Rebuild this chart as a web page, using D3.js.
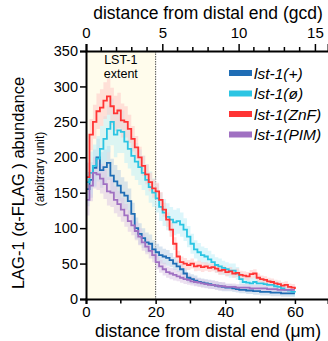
<!DOCTYPE html>
<html>
<head>
<meta charset="utf-8">
<script src="https://d3js.org/d3.v7.min.js"></script>
<style>
  body { margin: 0; background: #fff; }
  text { font-family: "Liberation Sans", Arial, sans-serif; fill: #000; }
</style>
</head>
<body>
<div id="chart"></div>
<script>
(function() {

  var width = 328, height = 341;

  // distance from distal end, um
  var dist = d3.range(0, 61);

  var meanWT  = [155,168,185,200,182,186,192,174,166,160,150,146,138,120,100,92,86,80,78,70,66,62,60,58,55,50,46,42,36,30,28,26,24,23,22,21,20,19,18,17,16,16,15,14,13,13,12,12,11,11,10,10,10,9,9,9,8,8,8,8,8];
  var meanNul = [165,178,188,198,212,226,240,250,232,238,236,222,212,202,194,186,178,168,158,150,142,130,122,116,112,108,110,105,98,88,78,70,66,62,60,56,52,48,46,44,42,40,40,36,28,24,23,22,24,22,22,21,20,20,18,17,15,13,12,10,9];
  var meanZnF = [172,232,250,265,270,280,286,272,262,266,252,250,240,226,214,200,188,176,165,156,152,140,126,112,98,78,60,52,50,48,50,46,47,45,46,44,45,43,40,41,38,39,36,37,34,33,32,35,36,30,28,27,25,24,22,21,19,20,17,16,14];
  var meanPIM = [140,160,178,176,170,162,152,150,140,134,126,118,110,104,96,88,80,74,68,62,52,46,42,38,36,34,32,30,28,27,25,24,23,22,21,20,20,19,18,18,17,17,17,16,16,16,16,15,15,15,15,15,14,14,14,13,13,13,13,13,13];

  var semWT  = [24,25,26,26,25,25,24,24,23,22,22,20,18,16,15,15,14,14,13,13,12,12,11,11,10,9,8,8,7,7,7,7,6,6,6,6,6,6,6,6,5,5,5,5,5,5,5,5,5,5,5,5,5,5,5,5,5,5,5,5,5];
  var semNul = [28,30,30,32,32,32,33,33,32,32,30,30,28,28,26,25,24,22,22,20,20,20,19,19,18,18,18,17,16,15,14,13,13,12,12,12,11,11,11,10,10,10,10,9,9,8,8,8,8,7,7,7,7,7,7,7,6,6,6,6,6];
  var semZnF = [20,22,24,25,26,26,26,26,25,25,24,22,20,18,16,15,14,14,13,13,12,11,10,10,10,9,8,8,8,7,7,7,7,7,6,6,6,6,6,6,6,6,6,6,6,6,6,6,6,6,5,5,5,5,5,5,5,5,5,5,5];
  var semPIM = [22,22,22,22,21,21,20,20,19,18,17,16,15,14,13,12,12,11,11,10,10,9,9,8,8,8,7,7,7,7,6,6,6,6,6,6,6,6,6,6,5,5,5,5,5,5,5,5,5,5,5,5,5,5,5,5,5,5,5,5,5];

  var labels = ["lst-1(+)", "lst-1(\u00f8)", "lst-1(ZnF)", "lst-1(PIM)"];
  var colors = ["#1f6db5", "#2cc5e3", "#ff3434", "#a070c2"];
  var bandColors = ["#b9cfe6", "#bfeef8", "#ffc9c6", "#dcc9e6"];

  var lstExtent = 20;       // um
  var umPerGcd = 4.383;

  var xTicks = [0, 20, 40, 60], xMinor = [10, 30, 50];
  var yTicks = [0, 50, 100, 150, 200, 250, 300, 350];
  var gcdTicks = [0, 5, 10, 15];

  var series = [
    {label: labels[0], mean: meanWT,  sem: semWT},
    {label: labels[1], mean: meanNul, sem: semNul},
    {label: labels[2], mean: meanZnF, sem: semZnF},
    {label: labels[3], mean: meanPIM, sem: semPIM}
  ];
  series.forEach(function(s, i) {
    s.color = colors[i];
    s.band = bandColors[i];
    s.points = dist.map(function(d, j) { return {d: d, m: s.mean[j], e: s.sem[j]}; });
  });

  var left = 86, right = 328, top = 51, bottom = 299;

  var x = d3.scaleLinear().domain([0, 69.5]).range([left, right]);
  var xg = d3.scaleLinear().domain([0, 69.5 / umPerGcd]).range([left, right]);
  var y = d3.scaleLinear().domain([0, 350]).range([bottom, top]);

  var svg = d3.select("#chart").append("svg")
      .attr("width", width)
      .attr("height", height);

  // LST-1 extent region
  svg.append("rect")
      .attr("x", x(0))
      .attr("y", y(350))
      .attr("width", x(lstExtent) - x(0))
      .attr("height", y(0) - y(350))
      .attr("fill", "#fffcec");

  svg.append("line")
      .attr("x1", x(lstExtent)).attr("x2", x(lstExtent))
      .attr("y1", y(350)).attr("y2", y(0))
      .attr("stroke", "#555")
      .attr("stroke-width", 1)
      .attr("stroke-dasharray", "1.5,1");

  svg.append("text")
      .attr("x", x(lstExtent / 2))
      .attr("y", 63.5)
      .attr("text-anchor", "middle")
      .style("font-size", "12.5px")
      .text("LST-1");
  svg.append("text")
      .attr("x", x(lstExtent / 2))
      .attr("y", 78)
      .attr("text-anchor", "middle")
      .style("font-size", "12.5px")
      .text("extent");

  // bands then lines
  var area = d3.area()
      .x(function(p) { return x(p.d); })
      .y0(function(p) { return y(Math.max(0, p.m - p.e)); })
      .y1(function(p) { return y(p.m + p.e); })
      .curve(d3.curveStepAfter);

  var line = d3.line()
      .x(function(p) { return x(p.d); })
      .y(function(p) { return y(p.m); })
      .curve(d3.curveStepAfter);

  svg.append("g").selectAll("path")
      .data(series)
    .enter().append("path")
      .attr("d", function(s) { return area(s.points); })
      .attr("fill", function(s) { return s.band; })
      .attr("fill-opacity", 0.55);

  svg.append("g").selectAll("path")
      .data(series)
    .enter().append("path")
      .attr("d", function(s) { return line(s.points); })
      .attr("fill", "none")
      .attr("stroke", function(s) { return s.color; })
      .attr("stroke-width", 1.8);

  // axes
  var xAxis = d3.axisBottom(x).tickValues(xTicks).tickSize(5).tickPadding(2);
  var gx = svg.append("g")
      .attr("transform", "translate(0," + bottom + ")")
      .call(xAxis);
  gx.selectAll("text").style("font-size", "15px");
  gx.selectAll(".minor")
      .data(xMinor)
    .enter().append("line")
      .attr("x1", function(d) { return x(d); })
      .attr("x2", function(d) { return x(d); })
      .attr("y1", 0).attr("y2", 4.5)
      .attr("stroke", "#000")
      .attr("stroke-width", 1.5);

  var gcdAxis = d3.axisTop(xg).tickValues(gcdTicks).tickSize(7).tickPadding(6);
  var gt = svg.append("g")
      .attr("transform", "translate(0," + top + ")")
      .call(gcdAxis);
  gt.selectAll("text").style("font-size", "15px");
  gt.selectAll(".minor")
      .data(d3.range(1, 16).filter(function(d) { return d % 5; }))
    .enter().append("line")
      .attr("x1", function(d) { return xg(d); })
      .attr("x2", function(d) { return xg(d); })
      .attr("y1", 0).attr("y2", -4)
      .attr("stroke", "#000")
      .attr("stroke-width", 1.5);

  var yAxis = d3.axisLeft(y).tickValues(yTicks).tickSize(6).tickPadding(2);
  var gy = svg.append("g")
      .attr("transform", "translate(" + left + ",0)")
      .call(yAxis);
  gy.selectAll("text").style("font-size", "14.5px");

  [gx, gt, gy].forEach(function(g) {
    g.select(".domain").attr("stroke-width", 2);
    g.selectAll(".tick line").attr("stroke-width", 1.5);
  });

  // titles
  svg.append("text")
      .attr("x", 208)
      .attr("y", 337)
      .attr("text-anchor", "middle")
      .style("font-size", "17.5px")
      .text("distance from distal end (\u03bcm)");

  svg.append("text")
      .attr("x", 208)
      .attr("y", 19)
      .attr("text-anchor", "middle")
      .style("font-size", "17.5px")
      .text("distance from distal end (gcd)");

  svg.append("text")
      .attr("transform", "translate(24,183) rotate(-90)")
      .attr("text-anchor", "middle")
      .style("font-size", "16.5px")
      .text("LAG-1 (\u03b1-FLAG ) abundance");

  svg.append("text")
      .attr("transform", "translate(44,169) rotate(-90)")
      .attr("text-anchor", "middle")
      .style("font-size", "12px")
      .text("(arbitrary unit)");

  // legend
  var legend = svg.append("g").selectAll("g")
      .data(series)
    .enter().append("g")
      .attr("transform", function(s, i) { return "translate(229," + (73 + i * 20.5) + ")"; });

  legend.append("rect")
      .attr("x", 0).attr("y", -3)
      .attr("width", 23).attr("height", 6)
      .attr("fill", function(s) { return s.color; });

  legend.append("text")
      .attr("x", 25)
      .attr("y", 5.5)
      .style("font-size", "15.5px")
      .style("font-style", "italic")
      .text(function(s) { return s.label; });

})();
</script>
</body>
</html>
